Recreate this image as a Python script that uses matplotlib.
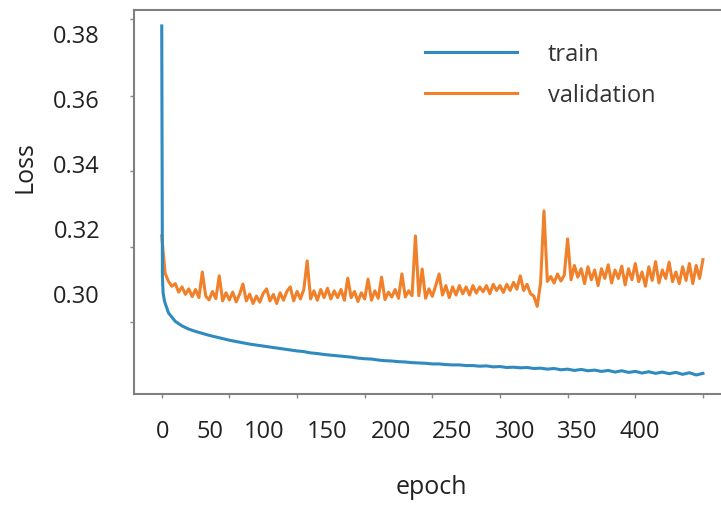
import matplotlib
matplotlib.use("Agg")
import matplotlib.pyplot as plt
import matplotlib.transforms as mtransforms

plt.rcParams["font.family"] = ["Open Sans", "DejaVu Sans"]

# train loss
train_epochs = [0, 1, 2, 4, 6, 8] + list(range(10, 801, 10))
train_loss = [0.3831, 0.3060, 0.3010, 0.2985, 0.2972, 0.2960,
              0.2948, 0.2922, 0.2908, 0.2898, 0.2891, 0.2885, 0.2879, 0.2874, 0.2869, 0.2864,
              0.2860, 0.2856, 0.2852, 0.2849, 0.2846, 0.2843, 0.2840, 0.2837, 0.2834, 0.2831,
              0.2829, 0.2825, 0.2823, 0.2820, 0.2818, 0.2816, 0.2814, 0.2812, 0.2809, 0.2807,
              0.2806, 0.2803, 0.2801, 0.2800, 0.2798, 0.2797, 0.2795, 0.2794, 0.2793, 0.2791,
              0.2791, 0.2789, 0.2788, 0.2788, 0.2786, 0.2786, 0.2784, 0.2785, 0.2782, 0.2783,
              0.2780, 0.2781, 0.2779, 0.2780, 0.2777, 0.2778, 0.2775, 0.2777, 0.2773, 0.2775,
              0.2771, 0.2774, 0.2770, 0.2772, 0.2768, 0.2771, 0.2766, 0.2770, 0.2765, 0.2768,
              0.2763, 0.2767, 0.2762, 0.2766, 0.2761, 0.2765, 0.2759, 0.2764, 0.2757, 0.2762]

# validation loss, every 5 epochs
val_epochs = list(range(0, 801, 5))
val_loss = [0.3185, 0.3070, 0.3045, 0.3030, 0.3038, 0.3012, 0.3028, 0.3005, 0.3022, 0.2998,
            0.3020, 0.2995, 0.3074, 0.3000, 0.2988, 0.3014, 0.2992, 0.3062, 0.2985, 0.3010,
            0.2988, 0.3012, 0.2982, 0.3005, 0.3037, 0.2985, 0.3006, 0.2977, 0.3000, 0.2981,
            0.3008, 0.3022, 0.2985, 0.3005, 0.2977, 0.3010, 0.2987, 0.3014, 0.3028, 0.2985,
            0.3014, 0.2991, 0.3020, 0.3108, 0.2991, 0.3016, 0.2987, 0.3020, 0.2995, 0.3024,
            0.2991, 0.3016, 0.2995, 0.3020, 0.2987, 0.3055, 0.2995, 0.3014, 0.2983, 0.3010,
            0.2991, 0.3052, 0.2987, 0.3016, 0.2993, 0.3058, 0.2989, 0.3012, 0.2997, 0.3020,
            0.2993, 0.3068, 0.2997, 0.3016, 0.3001, 0.3185, 0.3001, 0.3083, 0.2993, 0.3022,
            0.2999, 0.3032, 0.3068, 0.3003, 0.3032, 0.2995, 0.3028, 0.3003, 0.3032, 0.3007,
            0.3028, 0.3003, 0.3032, 0.3009, 0.3028, 0.3013, 0.3032, 0.3007, 0.3036, 0.3017,
            0.3032, 0.3011, 0.3036, 0.3017, 0.3042, 0.3021, 0.3062, 0.3017, 0.3036, 0.3007,
            0.3000, 0.2968, 0.3040, 0.3262, 0.3045, 0.3060, 0.3040, 0.3068, 0.3046, 0.3064,
            0.3176, 0.3050, 0.3094, 0.3058, 0.3084, 0.3038, 0.3090, 0.3050, 0.3080, 0.3032,
            0.3084, 0.3054, 0.3096, 0.3040, 0.3080, 0.3054, 0.3092, 0.3034, 0.3084, 0.3050,
            0.3100, 0.3044, 0.3074, 0.3030, 0.3090, 0.3048, 0.3106, 0.3040, 0.3080, 0.3054,
            0.3104, 0.3044, 0.3074, 0.3038, 0.3090, 0.3048, 0.3100, 0.3038, 0.3094, 0.3054,
            0.3112]

# tick labels as they appear in the picture (they sit off the tick marks)
xtick_labels = ["0", "50", "100", "150", "200", "250", "300", "350", "400"]
xtick_label_pos = [1.5, 71, 152, 244, 339, 429, 522, 614, 706]
ytick_labels = ["0.38", "0.36", "0.34", "0.32", "0.30"]
ytick_label_pos = [0.38, 0.36, 0.34, 0.32, 0.30]

W, H = 721, 506
fig = plt.figure(figsize=(W / 100, H / 100), dpi=100)
ax = fig.add_axes([134 / W, 1 - 395 / H, 596 / W, 384 / H])

ax.plot(val_epochs, val_loss, color="#f0802a", lw=2.2, label="validation", zorder=2)
ax.plot(train_epochs, train_loss, color="#2f8ac0", lw=2.2, label="train", zorder=3)

ax.set_xlim(-41, 840)
ax.set_ylim(0.26985, 0.3880)
ax.set_xticks(range(0, 801, 100))
ax.set_yticks([0.2920, 0.3152, 0.3385, 0.3615, 0.3852])
ax.set_xticklabels([])
ax.set_yticklabels([])
ax.tick_params(direction="out", length=3, width=1, color="#888888")
for s in ax.spines.values():
    s.set_color("#808080")
    s.set_linewidth(1.5)

tx = mtransforms.blended_transform_factory(ax.transData, ax.transAxes)
for lab, p in zip(xtick_labels, xtick_label_pos):
    ax.text(p, -0.0964, lab, transform=tx, ha="center", va="center",
            fontsize=17, color="#222222", clip_on=False)
ty = mtransforms.blended_transform_factory(ax.transAxes, ax.transData)
for lab, p in zip(ytick_labels, ytick_label_pos):
    ax.text(-0.057, p, lab, transform=ty, ha="right", va="center",
            fontsize=17, color="#222222", clip_on=False)

fig.text(25 / W, 1 - 167 / H, "Loss", rotation=90, ha="center", va="center",
         fontsize=18, color="#222222")
fig.text(431 / W, 1 - 488 / H, "epoch", ha="center", va="center",
         fontsize=18, color="#222222")

h, l = ax.get_legend_handles_labels()
leg = fig.legend(h[::-1], l[::-1], loc="center left", bbox_to_anchor=(425 / W, 1 - 75.5 / H),
                 frameon=False, fontsize=17, handlelength=3.9, handletextpad=1.3,
                 labelspacing=0.7, borderpad=0, borderaxespad=0)
for t in leg.get_texts():
    t.set_color("#333333")

fig.savefig("out.png", dpi=100)
